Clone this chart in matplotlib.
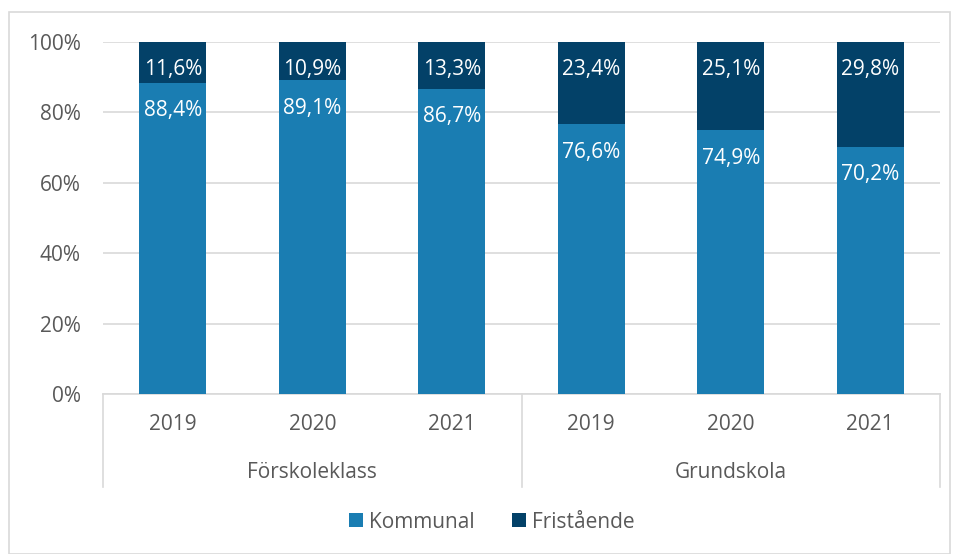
import matplotlib
matplotlib.use('Agg')
import matplotlib.pyplot as plt
from matplotlib.patches import Rectangle
import numpy as np

years = ['2019', '2020', '2021', '2019', '2020', '2021']
groups = ['Förskoleklass', 'Grundskola']
kommunal = [88.4, 89.1, 86.7, 76.6, 74.9, 70.2]
fristaende = [11.6, 10.9, 13.3, 23.4, 25.1, 29.8]

plt.rcParams['font.family'] = ['Open Sans', 'DejaVu Sans']
grey = '#595959'
c_kom = '#1a7db2'
c_fri = '#034168'
linec = '#d9d9d9'
fs = 15

W, H = 955, 554
fig = plt.figure(figsize=(W / 100, H / 100), dpi=100)
fig.patches.append(Rectangle((9 / W, 0), (950 - 9) / W, 1 - 12 / H, transform=fig.transFigure,
                             fill=False, edgecolor=linec, lw=1.2))
ax = fig.add_axes([103 / W, 1 - 394 / H, (940 - 103) / W, (394 - 42) / H])

x = np.arange(len(years))
k = np.array(kommunal) / 100
f = np.array(fristaende) / 100
b1 = ax.bar(x, k, width=0.48, color=c_kom, label='Kommunal', zorder=3)
b2 = ax.bar(x, f, bottom=k, width=0.48, color=c_fri, label='Fristående', zorder=3)

for xi, v, top in zip(x, kommunal, k):
    ax.annotate(f'{v:.1f}%'.replace('.', ','), (xi, top), xytext=(0, -28), textcoords='offset pixels',
                ha='center', va='center', color='white', fontsize=fs, zorder=4)
for xi, v in zip(x, fristaende):
    ax.annotate(f'{v:.1f}%'.replace('.', ','), (xi, 1.0), xytext=(0, -28), textcoords='offset pixels',
                ha='center', va='center', color='white', fontsize=fs, zorder=4)

ax.set_xlim(-0.5, 5.5)
ax.set_ylim(0, 1)
ax.set_yticks(np.arange(0, 1.01, 0.2))
ax.set_yticklabels([f'{int(round(t * 100))}%' for t in np.arange(0, 1.01, 0.2)])
ax.tick_params(axis='y', length=0, pad=16, labelsize=fs, labelcolor=grey)
ax.set_xticks([])
ax.yaxis.grid(True, color=linec, lw=1.2, zorder=0)
for s in ['top', 'right', 'left']:
    ax.spines[s].set_visible(False)
ax.spines['bottom'].set_color(linec)
ax.spines['bottom'].set_linewidth(1.2)

# two-level category axis
for xs in [-0.5, 2.5, 5.5]:
    ax.plot([xs, xs], [0, -0.264], color=linec, lw=1.2, clip_on=False)
for xi, yr in zip(x, years):
    ax.text(xi, -0.088, yr, ha='center', va='center', color=grey, fontsize=fs, clip_on=False)
for gi, g in enumerate(groups):
    ax.text(gi * 3 + 1, -0.222, g, ha='center', va='center', color=grey, fontsize=fs, clip_on=False)

fig.legend(handles=[b1, b2], labels=['Kommunal', 'Fristående'], loc='center',
           bbox_to_anchor=(492 / W, 1 - 522 / H), ncol=2, frameon=False,
           fontsize=fs, labelcolor=grey, handlelength=0.65, handleheight=0.65,
           handletextpad=0.3, columnspacing=1.8)

fig.savefig('out.png', dpi=100)
